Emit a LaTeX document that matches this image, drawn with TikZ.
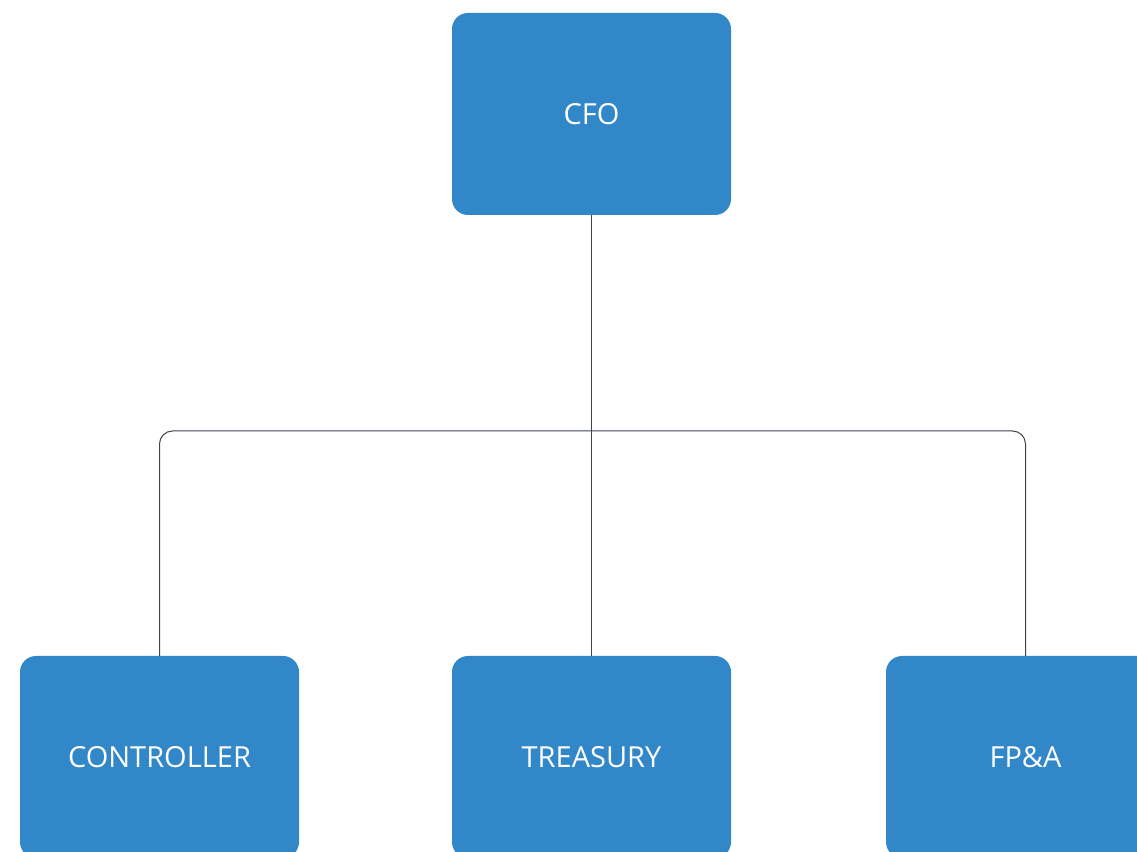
\documentclass[tikz,border=0pt]{standalone}
\usepackage{fontspec}
\setmainfont{Open Sans}
\definecolor{orgblue}{RGB}{50,135,200}
\definecolor{linkgray}{RGB}{60,68,80}
\usetikzlibrary{positioning}

\begin{document}
\begin{tikzpicture}[
  x=1pt, y=1pt,
  unit/.style={rectangle, fill=orgblue, rounded corners=16pt, text=white,
    minimum width=279pt, minimum height=202pt, inner sep=0pt, font=\fontsize{29}{34}\selectfont},
  link/.style={draw=linkgray, line width=1pt},
]
\useasboundingbox (0,0) rectangle (1137,851);
\clip (0,0) rectangle (1137,851);

\node[unit] (cfo) at (591.5,737) {CFO};
\node[unit] (controller) at (159.5,94) {CONTROLLER};
\node[unit] (treasury) at (591.5,94) {TREASURY};
\node[unit] (fpa) at (1025.5,94) {FP\&A};

% Connectors
\coordinate (bus) at (591.5,420);
\draw[link] (cfo.south) -- (treasury.north);
\draw[link, rounded corners=13pt] (controller.north) |- (bus) -| (fpa.north);

\end{tikzpicture}
\end{document}
